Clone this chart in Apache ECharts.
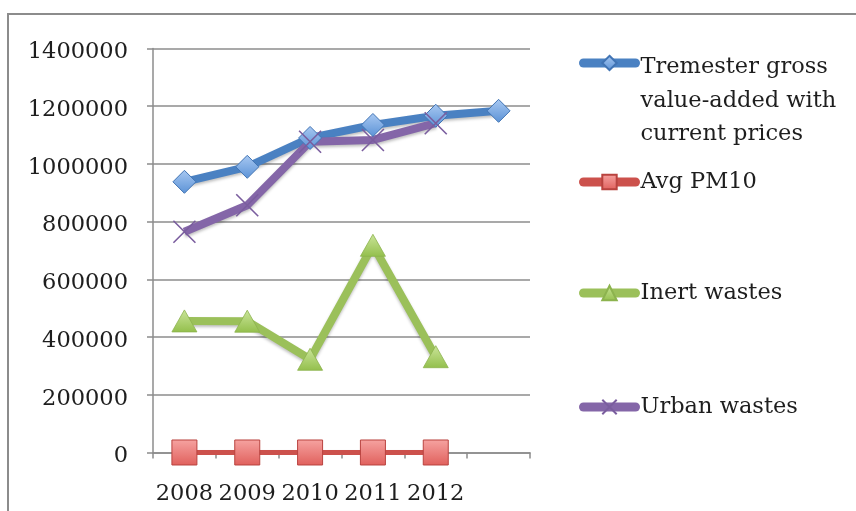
<!DOCTYPE html>
<html><head><meta charset="utf-8">
<script src="https://cdn.jsdelivr.net/npm/echarts@6/dist/echarts.min.js"></script>
<style>html,body{margin:0;padding:0;background:#fff}#c{width:856px;height:511px}</style>
</head><body><div id="c"></div>
<script>
// ---- data ----
const categories = ['2008', '2009', '2010', '2011', '2012', ''];
const grossValueAdded = [938000, 990000, 1090000, 1135000, 1167000, 1184000];
const avgPM10 = [45, 42, 40, 38, 36];
const inertWastes = [456000, 455000, 323000, 718000, 332000];
const urbanWastes = [765000, 857000, 1077000, 1083000, 1141000];
const yMin = 0, yMax = 1400000, yInterval = 200000;
const seriesNames = ['Tremester gross\nvalue-added with\ncurrent prices', 'Avg PM10', 'Inert wastes', 'Urban wastes'];

const FONT = 'DejaVu Serif';
const FS = 22.5;
const grid = '#8c8c8c';
const shadow = { shadowColor: 'rgba(0,0,0,0.25)', shadowBlur: 3, shadowOffsetY: 2 };
function grad(a, b) {
  return { type: 'linear', x: 0, y: 0, x2: 0, y2: 1, colorStops: [{ offset: 0, color: a }, { offset: 1, color: b }] };
}
const baseText = { fontFamily: FONT, fontSize: FS, color: '#1e1e1e', lineHeight: 33 };

function legend(name, top, extra) {
  return Object.assign({
    data: [name], left: 579, top: top, padding: 0, orient: 'vertical',
    itemWidth: 52, itemHeight: 18, selectedMode: false,
    lineStyle: { width: 9, cap: 'round' },
    textStyle: baseText
  }, extra || {});
}

const chart = echarts.init(document.getElementById('c'), null, { renderer: 'canvas' });
chart.setOption({
  animation: false,
  backgroundColor: '#fff',
  graphic: [{
    type: 'polyline', shape: { points: [[8, 511], [8, 14], [856, 14]] },
    style: { stroke: '#8c8c8c', lineWidth: 2, fill: null }, silent: true
  }],
  grid: { left: 153, right: 326, top: 48.5, bottom: 58.5 },
  legend: [
    legend(seriesNames[0], -25.25, {
      formatter: n => '{e| }\n{e| }\n' + n.split('\n').map(s => '{t|' + s + '}').join('\n'),
      textStyle: Object.assign({}, baseText, {
        rich: {
          e: { lineHeight: 38, fontSize: 10, fontFamily: FONT },
          t: { lineHeight: 33.5, fontSize: FS, fontFamily: FONT, color: '#1e1e1e' }
        }
      })
    }),
    legend(seriesNames[1], 165.5),
    legend(seriesNames[2], 276.5),
    legend(seriesNames[3], 390.5)
  ],
  xAxis: {
    type: 'category', data: categories, boundaryGap: true,
    axisLine: { lineStyle: { color: grid, width: 1.5 } },
    axisTick: { show: true, length: 6, inside: false, lineStyle: { color: grid, width: 1.5 } },
    axisLabel: { fontFamily: FONT, fontSize: FS, color: '#1e1e1e', margin: 30, interval: 0 },
    splitLine: { show: false }
  },
  yAxis: {
    type: 'value', min: yMin, max: yMax, interval: yInterval,
    axisLine: { show: true, lineStyle: { color: grid, width: 1.5 } },
    axisTick: { show: true, length: 6, lineStyle: { color: grid, width: 1.5 } },
    axisLabel: { fontFamily: FONT, fontSize: FS, color: '#1e1e1e', margin: 25, verticalAlign: 'top', lineHeight: 8, formatter: v => String(v) },
    splitLine: { show: true, lineStyle: { color: grid, width: 1.5 } }
  },
  series: [
    {
      name: seriesNames[0], type: 'line', data: grossValueAdded,
      symbol: 'diamond', symbolSize: 23,
      lineStyle: Object.assign({ color: '#4a81c2', width: 8, join: 'round' }, shadow),
      itemStyle: { color: grad('#a9c9f2', '#5b92d6'), borderColor: '#4174b4', borderWidth: 1 }
    },
    {
      name: seriesNames[1], type: 'line', data: avgPM10,
      symbol: 'rect', symbolSize: 25,
      lineStyle: Object.assign({ color: '#cc514c', width: 5, join: 'round' }, shadow),
      itemStyle: { color: grad('#f6a3a1', '#e0605c'), borderColor: '#b9433f', borderWidth: 1 }
    },
    {
      name: seriesNames[2], type: 'line', data: inertWastes,
      symbol: 'triangle', symbolSize: [25, 22],
      lineStyle: Object.assign({ color: '#9bc05a', width: 8, join: 'round' }, shadow),
      itemStyle: { color: grad('#cbe59a', '#93bf4c'), borderColor: '#8cb34e', borderWidth: 0.8 }
    },
    {
      name: seriesNames[3], type: 'line', data: urbanWastes,
      symbol: 'path://M0,0L10,10M10,0L0,10', symbolSize: 22,
      lineStyle: Object.assign({ color: '#8466a8', width: 8, join: 'round' }, shadow),
      itemStyle: { color: '#8466a8', borderColor: '#7a5d9e', borderWidth: 1.6 }
    }
  ]
});
</script>
</body></html>
